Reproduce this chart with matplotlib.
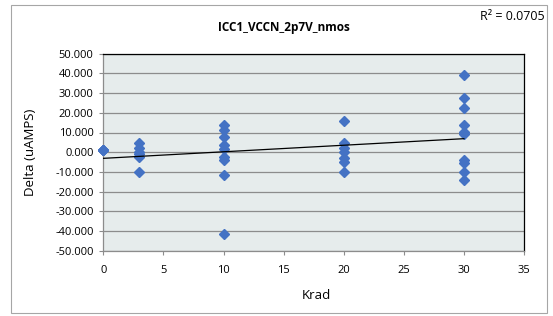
import numpy as np
import matplotlib
matplotlib.use("Agg")
import matplotlib.pyplot as plt
from matplotlib.patches import Rectangle

plt.rcParams['font.family'] = ['Open Sans', 'DejaVu Sans']

# data
krad = [0, 0, 0, 0,
        3, 3, 3, 3, 3, 3,
        10, 10, 10, 10, 10, 10, 10, 10, 10,
        20, 20, 20, 20, 20, 20, 20,
        30, 30, 30, 30, 30, 30, 30, 30, 30, 30]
delta = [1.0, 1.0, 1.0, 1.0,
         4.5, 2.0, 0.3, -1.1, -2.3, -9.9,
         14.0, 11.3, 7.6, 3.7, 1.5, -2.3, -4.0, -11.6, -41.5,
         16.0, 4.5, 2.0, 0.3, -3.1, -4.8, -9.9,
         39.0, 27.4, 22.6, 14.0, 10.5, 9.0, -4.0, -5.6, -9.9, -14.1]
yticks = [50, 40, 30, 20, 10, 0, -10, -20, -30, -40, -50]
xticks = [0, 5, 10, 15, 20, 25, 30, 35]
title = "ICC1_VCCN_2p7V_nmos"
r2_text = "R² = 0.0705"

fig = plt.figure(figsize=(5.53, 3.16), dpi=100)
fig.patch.set_facecolor('white')
fig.patches.append(Rectangle((11/553, 3/316), 536/553, 308/316, transform=fig.transFigure,
                             fill=False, edgecolor='#a6a6a6', linewidth=0.8))

ax = fig.add_axes([103.3/553, (316-250.7)/316, (524-103.3)/553, (250.7-53.7)/316])
ax.set_facecolor('#e6ecec')
ax.set_xlim(0, 35)
ax.set_ylim(-50, 50)
ax.set_yticks(yticks)
ax.set_yticklabels([f"{v:.3f}" for v in yticks])
ax.set_xticks(xticks)
ax.yaxis.grid(True, color='#8c8c8c', linewidth=0.9)
ax.set_axisbelow(True)
for s in ['top', 'right']:
    ax.spines[s].set_color('black')
    ax.spines[s].set_linewidth(0.9)
for s in ['left', 'bottom']:
    ax.spines[s].set_color('#8c8c8c')
    ax.spines[s].set_linewidth(0.9)
ax.tick_params(axis='both', length=3, width=0.8, color='#8c8c8c', labelsize=8)
ax.tick_params(axis='y', pad=4)
ax.tick_params(axis='x', pad=7)

ax.plot(krad, delta, linestyle='none', marker='D', markersize=5.5,
        color='#4472c4', clip_on=False, zorder=3)

coef = np.polyfit(krad, delta, 1)
xs = np.array([min(krad), max(krad)])
ax.plot(xs, np.polyval(coef, xs), color='black', linewidth=0.9, zorder=4)

ax.set_xlabel("Krad", fontsize=9.5)
ax.xaxis.set_label_coords((316 - 103.3) / 420.7, -(289 - 250.7) / 197)
ax.set_ylabel("Delta (uAMPS)", fontsize=9.5)
ax.yaxis.set_label_coords(-(103.3 - 37) / 420.7, 0.5)
fig.text(284/553, 1 - 27/316, title, ha='center', va='center', fontsize=8.5, fontweight='bold')
fig.text(545/553, 1 - 17/316, r2_text, ha='right', va='center', fontsize=9)

fig.savefig("out.png", dpi=100)
